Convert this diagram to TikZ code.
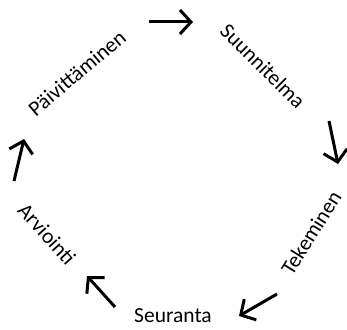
\documentclass[tikz,border=0pt]{standalone}
\usepackage{fontspec}
\setmainfont{Carlito}
\usetikzlibrary{arrows.meta}
\begin{document}
\begin{tikzpicture}[x=1pt,y=-1pt,
  lbl/.style={inner sep=0pt,font=\fontsize{21.5}{25}\selectfont},
  cyc/.style={line width=3pt,-{Straight Barb[length=11pt,width=24pt,line width=3pt]}}]
\useasboundingbox (0,0) rectangle (347,329);
\node[lbl,rotate=40]  (paiv) at (77,73)   {Päivittäminen};
\node[lbl,rotate=-45] (suun) at (263,66)  {Suunnitelma};
\node[lbl,rotate=58]  (teke) at (311,233) {Tekeminen};
\node[lbl]            (seur) at (173,316) {Seuranta};
\node[lbl,rotate=-48] (arvi) at (47,234)  {Arviointi};
\coordinate (a1s) at (149,22);  \coordinate (a1e) at (193,22);
\coordinate (a2s) at (329,121); \coordinate (a2e) at (338,164);
\coordinate (a3s) at (277,294); \coordinate (a3e) at (239,316);
\coordinate (a4s) at (115,307); \coordinate (a4e) at (87,276);
\coordinate (a5s) at (14,181);  \coordinate (a5e) at (24,139);
\draw[cyc] (a1s) -- (a1e);
\draw[cyc] (a2s) -- (a2e);
\draw[cyc] (a3s) -- (a3e);
\draw[cyc] (a4s) -- (a4e);
\draw[cyc] (a5s) -- (a5e);
\end{tikzpicture}
\end{document}
